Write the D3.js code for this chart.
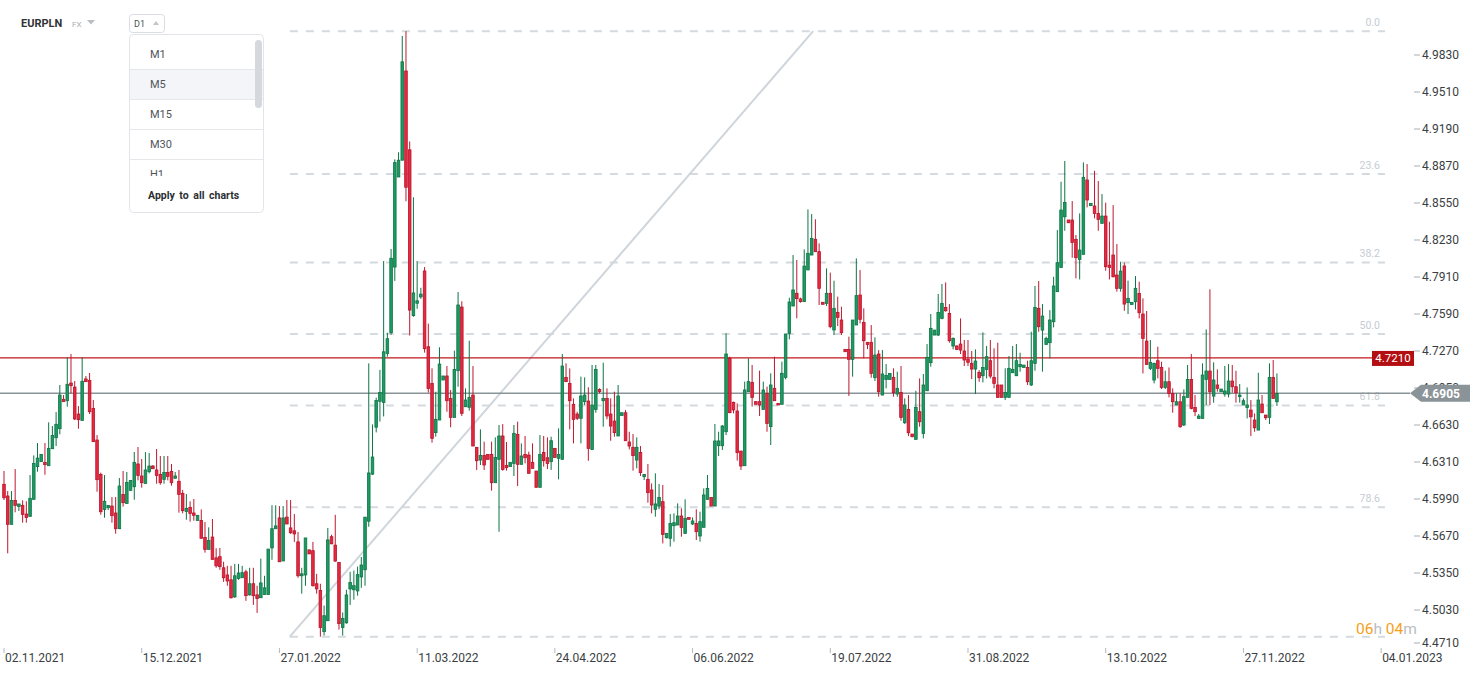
<!DOCTYPE html>
<html>
<head>
<meta charset="utf-8">
<script src="https://cdn.jsdelivr.net/npm/d3@7"></script>
<style>
  body { margin: 0; background: #fff; }
  svg { display: block; font-family: Roboto, "Open Sans", sans-serif; }
</style>
</head>
<body>
<script>
// EURPLN D1 candles, one value per bar
var openPrices = [
  4.6117,4.6016,4.5771,4.5978,4.5926,4.5935,4.5860,4.5840,4.5987,4.6270,
  4.6313,4.6307,4.6278,4.6425,4.6520,4.6598,4.6852,4.6840,4.6993,4.6958,
  4.6725,4.6670,4.7028,4.7016,4.6774,4.6500,4.6203,4.5900,4.5915,4.5929,
  4.5869,4.5733,4.6030,4.5952,4.6065,4.6096,4.6293,4.6189,4.6125,4.6226,
  4.6275,4.6241,4.6203,4.6160,4.6220,4.6229,4.6169,4.6143,4.6039,4.5883,
  4.5918,4.5869,4.5805,4.5805,4.5658,4.5554,4.5661,4.5481,4.5491,4.5395,
  4.5333,4.5291,4.5143,4.5302,4.5309,4.5360,4.5161,4.5257,4.5161,4.5136,
  4.5164,4.5164,4.5567,4.5733,4.5826,4.5454,4.5833,4.5740,4.5715,4.5619,
  4.5326,4.5333,4.5550,4.5543,4.5257,4.5198,4.4843,4.4937,4.5664,4.5591,
  4.5440,4.4878,4.4919,4.5212,4.5205,4.5195,4.5316,4.5378,4.5798,4.6205,
  4.6611,4.6835,4.6825,4.7249,4.7428,4.7996,4.8775,4.8920,4.9692,4.9010,
  4.7576,4.7683,4.7738,4.7962,4.7307,4.6990,4.6564,4.6673,4.7019,4.7054,
  4.6860,4.6696,4.7100,4.7650,4.6788,4.6783,4.6889,4.6437,4.6327,4.6367,
  4.6376,4.6376,4.6131,4.6333,4.6535,4.6281,4.6270,4.6298,4.6549,4.6290,
  4.6376,4.6370,4.6307,4.6232,4.6091,4.6393,4.6347,4.6313,4.6428,4.6342,
  4.6333,4.7042,4.6990,4.6809,4.6725,4.6688,4.6832,4.6837,4.6419,4.6765,
  4.6938,4.6840,4.6860,4.6725,4.6664,4.6535,4.6713,4.6736,4.6483,4.6437,
  4.6327,4.6393,4.6183,4.6160,4.6068,4.5901,4.5929,4.5967,4.5655,4.5650,
  4.5759,4.5765,4.5843,4.5693,4.5831,4.5774,4.5779,4.5670,4.5745,4.5987,
  4.6004,4.5929,4.6451,4.6451,4.6572,4.7207,4.6826,4.6751,4.6405,4.6278,
  4.6918,4.6999,4.6832,4.6832,4.6765,4.6904,4.6616,4.6947,4.6817,4.6809,
  4.7042,4.7423,4.7659,4.7769,4.7720,4.7697,4.7971,4.8100,4.8236,4.8129,
  4.7691,4.7682,4.7769,4.7452,4.7604,4.7538,4.7284,4.7284,4.7198,4.7495,
  4.7754,4.7517,4.7345,4.7345,4.7039,4.7244,4.6889,4.7024,4.7024,4.7042,
  4.6898,4.6912,4.6650,4.6765,4.6552,4.6506,4.6745,4.6557,4.6926,4.7169,
  4.7408,4.7408,4.7552,4.7647,4.7595,4.7313,4.7313,4.7330,4.7270,4.7198,
  4.7163,4.7114,4.7085,4.7056,4.7111,4.7186,4.7042,4.6976,4.6976,4.6869,
  4.6869,4.7082,4.7056,4.7134,4.7128,4.7128,4.6976,4.7163,4.7639,4.7451,
  4.7327,4.7342,4.7523,4.7783,4.7993,4.8431,4.8403,4.8403,4.8235,4.8062,
  4.8106,4.8749,4.8527,4.8524,4.8460,4.8374,4.8437,4.8013,4.8100,4.7927,
  4.7812,4.8005,4.7688,4.7673,4.7696,4.7768,4.7590,4.7356,4.7120,4.7019,
  4.7186,4.7128,4.6955,4.7004,4.6903,4.6803,4.6831,4.6630,4.6869,4.7024,
  4.6782,4.6687,4.6687,4.7024,4.7097,4.6880,4.6976,4.6918,4.6898,4.6898,
  4.7010,4.6961,4.6875,4.6803,4.6782,4.6759,4.6673,4.6586,4.6811,4.6716,
  4.6696,4.7042,4.6831
];
var highPrices = [
  4.6232,4.6059,4.6059,4.6249,4.5947,4.5978,4.5970,4.6197,4.6367,4.6474,
  4.6376,4.6474,4.6653,4.6621,4.6742,4.6976,4.6889,4.7215,4.7244,4.7010,
  4.6794,4.7215,4.7054,4.7080,4.6846,4.6543,4.6218,4.6197,4.5935,4.6007,
  4.6007,4.6171,4.6232,4.6223,4.6151,4.6396,4.6440,4.6336,4.6396,4.6388,
  4.6284,4.6422,4.6362,4.6362,4.6362,4.6293,4.6223,4.6241,4.6068,4.6033,
  4.5970,4.5990,4.5849,4.5900,4.5791,4.5745,4.5817,4.5564,4.5567,4.5447,
  4.5412,4.5412,4.5429,4.5429,4.5412,4.5378,4.5395,4.5395,4.5240,4.5474,
  4.5326,4.5557,4.5936,4.5936,4.5929,4.5929,4.5981,4.5981,4.5860,4.5705,
  4.5395,4.5653,4.5550,4.5619,4.5343,4.5257,4.5068,4.5740,4.5681,4.5853,
  4.5440,4.5009,4.5205,4.5360,4.5371,4.5405,4.5488,4.5833,4.7163,4.6635,
  4.6866,4.7107,4.8048,4.7428,4.8152,4.8927,4.8989,4.9995,5.0036,4.9082,
  4.8600,4.8048,4.7817,4.7996,4.7507,4.7120,4.6918,4.7302,4.7054,4.7140,
  4.6933,4.7273,4.7780,4.7700,4.6947,4.7359,4.7140,4.6437,4.6592,4.6486,
  4.6376,4.6486,4.6523,4.6630,4.6638,4.6483,4.6307,4.6630,4.6659,4.6471,
  4.6535,4.6399,4.6471,4.6232,4.6543,4.6535,4.6523,4.6529,4.6428,4.6601,
  4.7244,4.7163,4.7120,4.6860,4.6745,4.7048,4.7042,4.6956,4.7149,4.7149,
  4.6947,4.7169,4.6947,4.6860,4.6918,4.6976,4.6736,4.6760,4.6572,4.6552,
  4.6523,4.6448,4.6203,4.6293,4.6125,4.6212,4.6120,4.6111,4.5693,4.5860,
  4.5866,4.5952,4.5909,4.5987,4.5831,4.5831,4.5901,4.5880,4.6082,4.6198,
  4.6004,4.6639,4.6572,4.6630,4.7423,4.7221,4.6832,4.6817,4.6405,4.7005,
  4.7207,4.7149,4.6832,4.7100,4.7005,4.6962,4.7077,4.7221,4.6817,4.7178,
  4.7417,4.7731,4.8100,4.8057,4.7731,4.8149,4.8495,4.8455,4.8409,4.8201,
  4.7691,4.7985,4.7948,4.7878,4.7740,4.7653,4.7284,4.7394,4.7538,4.8071,
  4.7970,4.7639,4.7345,4.7494,4.7388,4.7278,4.7278,4.7157,4.7076,4.7120,
  4.7091,4.7140,4.6860,4.6889,4.6552,4.6926,4.7033,4.7071,4.7330,4.7590,
  4.7451,4.7763,4.7849,4.7863,4.7676,4.7388,4.7321,4.7552,4.7365,4.7365,
  4.7270,4.7284,4.7105,4.7431,4.7313,4.7365,4.7293,4.7342,4.6976,4.7120,
  4.7226,4.7313,4.7330,4.7255,4.7148,4.7186,4.7437,4.7832,4.7875,4.7676,
  4.7394,4.7624,4.7912,4.8316,4.8734,4.8913,4.8403,4.8567,4.8273,4.8460,
  4.8901,4.8887,4.8547,4.8829,4.8740,4.8627,4.8553,4.8388,4.8532,4.8195,
  4.8042,4.8034,4.7878,4.7690,4.7918,4.7869,4.7725,4.7616,4.7365,4.7169,
  4.7307,4.7177,4.7099,4.7128,4.6947,4.6903,4.6903,4.6938,4.7149,4.7244,
  4.6889,4.6725,4.7163,4.7457,4.7803,4.7172,4.7111,4.6941,4.7140,4.7157,
  4.7149,4.7099,4.6984,4.6860,4.6955,4.6846,4.6730,4.7082,4.6889,4.6716,
  4.7163,4.7192,4.7076
];
var lowPrices = [
  4.5981,4.5520,4.5771,4.5875,4.5886,4.5785,4.5785,4.5840,4.5987,4.6226,
  4.6313,4.6200,4.6278,4.6425,4.6448,4.6549,4.6832,4.6788,4.6904,4.6673,
  4.6598,4.6670,4.7005,4.6725,4.6486,4.6053,4.5854,4.5828,4.5895,4.5785,
  4.5690,4.5733,4.5924,4.5952,4.6065,4.5984,4.6151,4.6088,4.6125,4.6212,
  4.6252,4.6122,4.6114,4.6122,4.6151,4.6105,4.6169,4.5872,4.5866,4.5811,
  4.5794,4.5802,4.5805,4.5650,4.5526,4.5554,4.5468,4.5395,4.5378,4.5274,
  4.5240,4.5129,4.5136,4.5291,4.5309,4.5109,4.5154,4.5074,4.5005,4.5136,
  4.5164,4.5164,4.5464,4.5733,4.5447,4.5454,4.5774,4.5688,4.5619,4.5309,
  4.5171,4.5240,4.5515,4.5233,4.5171,4.4799,4.4809,4.4937,4.5602,4.5447,
  4.4861,4.4809,4.4912,4.5074,4.5119,4.5154,4.5222,4.5240,4.5750,4.6198,
  4.6566,4.6660,4.6704,4.7221,4.7411,4.7876,4.8775,4.8920,4.8565,4.7404,
  4.7566,4.7635,4.7721,4.7256,4.6911,4.6477,4.6529,4.6673,4.7019,4.6745,
  4.6610,4.6696,4.6961,4.6708,4.6788,4.6754,4.6448,4.6241,4.6284,4.6241,
  4.6333,4.6062,4.6131,4.5707,4.6235,4.6235,4.6270,4.6189,4.6102,4.6290,
  4.6298,4.6212,4.6255,4.6091,4.6091,4.6270,4.6249,4.6241,4.6350,4.6160,
  4.6333,4.7005,4.6592,4.6471,4.6673,4.6471,4.6803,4.6321,4.6413,4.6736,
  4.6904,4.6615,4.6679,4.6494,4.6529,4.6535,4.6713,4.6494,4.6419,4.6235,
  4.6255,4.6189,4.6154,4.5958,4.5866,4.5837,4.5901,4.5606,4.5650,4.5578,
  4.5621,4.5765,4.5664,4.5687,4.5814,4.5765,4.5635,4.5621,4.5745,4.5987,
  4.5929,4.5929,4.6362,4.6414,4.6543,4.6731,4.6731,4.6322,4.6241,4.6278,
  4.6918,4.6789,4.6809,4.6708,4.6765,4.6572,4.6457,4.6840,4.6803,4.6809,
  4.7025,4.7371,4.7659,4.7553,4.7688,4.7697,4.7971,4.8100,4.8129,4.7668,
  4.7674,4.7659,4.7466,4.7408,4.7486,4.7408,4.7264,4.6881,4.7048,4.7495,
  4.7509,4.7206,4.7287,4.7039,4.7010,4.6875,4.6889,4.6947,4.7024,4.6875,
  4.6875,4.6667,4.6638,4.6534,4.6523,4.6506,4.6615,4.6514,4.6926,4.7134,
  4.7408,4.7399,4.7544,4.7610,4.7342,4.7284,4.7278,4.7244,4.7140,4.7140,
  4.7027,4.6898,4.7004,4.6998,4.7033,4.7033,4.6947,4.6869,4.6869,4.6846,
  4.6869,4.7082,4.7056,4.7091,4.7128,4.6976,4.6967,4.7099,4.7437,4.7091,
  4.7327,4.7206,4.7474,4.7783,4.7993,4.8310,4.8379,4.8077,4.7898,4.7889,
  4.8106,4.8512,4.8527,4.8417,4.8310,4.8374,4.7964,4.7889,4.7907,4.7783,
  4.7783,4.7618,4.7590,4.7673,4.7630,4.7552,4.7076,4.7154,4.7105,4.6990,
  4.7033,4.6941,4.6941,4.6869,4.6736,4.6803,4.6606,4.6621,4.6869,4.6765,
  4.6707,4.6687,4.6687,4.6803,4.6803,4.6823,4.6918,4.6918,4.6875,4.6869,
  4.6909,4.6823,4.6823,4.6803,4.6687,4.6534,4.6572,4.6586,4.6736,4.6673,
  4.6638,4.6860,4.6794
];
var closePrices = [
  4.6001,4.5771,4.5978,4.5935,4.5947,4.5857,4.5831,4.5996,4.6298,4.6344,
  4.6376,4.6287,4.6428,4.6540,4.6636,4.6889,4.6832,4.6982,4.6970,4.6682,
  4.6676,4.7008,4.7005,4.6745,4.6486,4.6157,4.5880,4.5970,4.5935,4.5846,
  4.5733,4.6102,4.5958,4.6134,4.6151,4.6307,4.6194,4.6131,4.6241,4.6275,
  4.6252,4.6194,4.6131,4.6220,4.6186,4.6131,4.6189,4.6030,4.5889,4.5909,
  4.5866,4.5849,4.5849,4.5650,4.5554,4.5632,4.5468,4.5412,4.5405,4.5309,
  4.5281,4.5136,4.5326,4.5350,4.5353,4.5154,4.5257,4.5154,4.5130,4.5264,
  4.5222,4.5557,4.5733,4.5757,4.5447,4.5826,4.5774,4.5698,4.5688,4.5326,
  4.5343,4.5653,4.5515,4.5240,4.5212,4.4878,4.4981,4.5636,4.5602,4.5453,
  4.4912,4.4957,4.5160,4.5267,4.5240,4.5336,4.5419,4.5833,4.6215,4.6353,
  4.6842,4.6911,4.7263,4.7376,4.8072,4.8899,4.8920,4.9771,4.8686,4.7624,
  4.7772,4.7704,4.7762,4.7290,4.6946,4.6515,4.6679,4.7157,4.7054,4.6840,
  4.6696,4.7111,4.7668,4.6731,4.6846,4.6869,4.6448,4.6321,4.6367,4.6284,
  4.6333,4.6131,4.6350,4.6535,4.6246,4.6261,4.6307,4.6558,4.6290,4.6362,
  4.6347,4.6212,4.6255,4.6091,4.6376,4.6321,4.6298,4.6494,4.6350,4.6376,
  4.7140,4.7005,4.6840,4.6679,4.6688,4.6881,4.6889,4.6428,4.6803,4.7111,
  4.6918,4.6860,4.6708,4.6621,4.6564,4.6881,4.6736,4.6494,4.6448,4.6365,
  4.6437,4.6218,4.6203,4.6045,4.5938,4.5947,4.6004,4.5684,4.5693,4.5779,
  4.5785,4.5843,4.5745,4.5823,4.5814,4.5800,4.5707,4.5794,4.6025,4.6082,
  4.5929,4.6492,4.6492,4.6621,4.7244,4.6737,4.6760,4.6391,4.6275,4.6933,
  4.7005,4.6869,4.6809,4.6803,4.6933,4.6644,4.6976,4.6840,4.6803,4.7077,
  4.7417,4.7694,4.7798,4.7723,4.7697,4.8005,4.8115,4.8244,4.8129,4.7812,
  4.7674,4.7769,4.7480,4.7639,4.7561,4.7429,4.7264,4.7198,4.7538,4.7749,
  4.7544,4.7359,4.7327,4.7076,4.7235,4.6918,4.7071,4.7059,4.7076,4.6909,
  4.6947,4.6696,4.6803,4.6563,4.6529,4.6782,4.6658,4.6976,4.7215,4.7466,
  4.7451,4.7604,4.7682,4.7618,4.7359,4.7379,4.7284,4.7278,4.7192,4.7172,
  4.7114,4.7183,4.7039,4.7128,4.7221,4.7053,4.6990,4.6869,4.6869,4.6912,
  4.7120,4.7111,4.7186,4.7154,4.7148,4.7004,4.7186,4.7647,4.7480,4.7572,
  4.7379,4.7538,4.7832,4.8034,4.8489,4.8555,4.8379,4.8209,4.8077,4.8143,
  4.8772,4.8576,4.8547,4.8460,4.8408,4.8437,4.7999,4.7993,4.7912,4.7812,
  4.7961,4.7676,4.7725,4.7690,4.7812,4.7601,4.7379,4.7154,4.7172,4.7163,
  4.7120,4.6955,4.7004,4.6903,4.6831,4.6831,4.6615,4.6875,4.7024,4.6774,
  4.6745,4.6707,4.7062,4.7097,4.6918,4.7019,4.6947,4.6941,4.6924,4.7010,
  4.6961,4.6909,4.6889,4.6840,4.6803,4.6701,4.6606,4.6846,4.6736,4.6693,
  4.7042,4.6860,4.6903
];

var dateLabels = ["02.11.2021","15.12.2021","27.01.2022","11.03.2022","24.04.2022",
  "06.06.2022","19.07.2022","31.08.2022","13.10.2022","27.11.2022","04.01.2023"];
var barsPerDateTick = 37;
var priceTicks = [4.4710,4.5030,4.5350,4.5670,4.5990,4.6310,4.6630,4.6950,4.7270,
  4.7590,4.7910,4.8230,4.8550,4.8870,4.9190,4.9510,4.9830];
var fibLevels = [0, 23.6, 38.2, 50, 61.8, 78.6, 100];
var fibAnchorBars = [76.8, 217.4];   // where the fibonacci tool was dragged
var levelLine = 4.7210;
var lastPrice = 4.6905;
var timeframes = ["M1", "M5", "M15", "M30", "H1"];

var W = 1482, H = 674;
var n = closePrices.length;

var svg = d3.select("body").append("svg")
    .attr("width", W)
    .attr("height", H);

var x = d3.scaleLinear().domain([0, n - 1]).range([4, 4 + (n - 1) * 3.722]);
var y = d3.scaleLinear().domain([4.471, 4.983]).range([647, 55]);

// ---- fibonacci retracement ----
var hi = d3.max(highPrices), lo = d3.min(lowPrices);
var fibX0 = x(fibAnchorBars[0]), fibX1 = 1385;

var fib = svg.append("g");
fib.selectAll("line.fib")
    .data(fibLevels)
    .enter().append("line")
    .attr("class", "fib")
    .attr("x1", fibX0).attr("x2", fibX1)
    .attr("y1", function(d) { return y(hi - (hi - lo) * d / 100); })
    .attr("y2", function(d) { return y(hi - (hi - lo) * d / 100); })
    .attr("stroke", "#d4dadf")
    .attr("stroke-width", 2)
    .attr("stroke-dasharray", "8,8");

fib.selectAll("text")
    .data(fibLevels)
    .enter().append("text")
    .attr("x", 1380)
    .attr("y", function(d) { return y(hi - (hi - lo) * d / 100) - 5; })
    .attr("text-anchor", "end")
    .attr("font-size", 10.5)
    .attr("fill", "#c6ccd2")
    .text(function(d) { return d.toFixed(1); });

fib.append("line")
    .attr("x1", fibX0).attr("y1", y(lo))
    .attr("x2", x(fibAnchorBars[1])).attr("y2", y(hi))
    .attr("stroke", "#cfd5da")
    .attr("stroke-width", 2);

// ---- horizontal price lines ----
svg.append("line")
    .attr("x1", 0).attr("x2", 1372)
    .attr("y1", y(levelLine)).attr("y2", y(levelLine))
    .attr("stroke", "#c4161c").attr("stroke-width", 1.2);

svg.append("line")
    .attr("x1", 0).attr("x2", 1410)
    .attr("y1", y(lastPrice)).attr("y2", y(lastPrice))
    .attr("stroke", "#8a9397").attr("stroke-width", 1.4);

// ---- candles ----
var bars = d3.range(n);
var up = function(i) { return closePrices[i] >= openPrices[i]; };

var candles = svg.append("g");
candles.selectAll("line")
    .data(bars)
    .enter().append("line")
    .attr("x1", function(i) { return x(i); })
    .attr("x2", function(i) { return x(i); })
    .attr("y1", function(i) { return y(highPrices[i]); })
    .attr("y2", function(i) { return y(lowPrices[i]); })
    .attr("stroke", function(i) { return up(i) ? "#0d7446" : "#bd1930"; })
    .attr("stroke-width", 1);

candles.selectAll("rect")
    .data(bars)
    .enter().append("rect")
    .attr("x", function(i) { return x(i) - 1.3; })
    .attr("width", 2.6)
    .attr("y", function(i) { return y(Math.max(openPrices[i], closePrices[i])); })
    .attr("height", function(i) {
        return Math.max(1.5, Math.abs(y(openPrices[i]) - y(closePrices[i])));
    })
    .attr("fill", function(i) { return up(i) ? "#1c9a61" : "#e8283f"; })
    .attr("stroke", function(i) { return up(i) ? "#0d7446" : "#b5142b"; })
    .attr("stroke-width", 0.8);

// ---- price axis ----
// lowest label is nudged up so it clears the date row
var labelY = function(d) { return Math.min(y(d), 643); };
var pAxis = svg.append("g");
pAxis.selectAll("line")
    .data(priceTicks)
    .enter().append("line")
    .attr("x1", 1414).attr("x2", 1420)
    .attr("y1", labelY)
    .attr("y2", labelY)
    .attr("stroke", "#a9aeb3");
pAxis.selectAll("text")
    .data(priceTicks)
    .enter().append("text")
    .attr("x", 1422)
    .attr("y", function(d) { return labelY(d) + 4; })
    .attr("font-size", 12)
    .attr("fill", "#3a3e42")
    .text(function(d) { return d.toFixed(4); });

// level label
svg.append("rect")
    .attr("x", 1372).attr("y", y(levelLine) - 7)
    .attr("width", 42).attr("height", 15)
    .attr("fill", "#b30f12");
svg.append("text")
    .attr("x", 1393).attr("y", y(levelLine) + 4.5)
    .attr("text-anchor", "middle")
    .attr("font-size", 11.5).attr("fill", "#fff")
    .text(levelLine.toFixed(4));

// last price label
var ly = y(lastPrice);
svg.append("path")
    .attr("d", "M1410," + ly + " L1421," + (ly - 8.5) + " L1470," + (ly - 8.5) +
               " L1470," + (ly + 8.5) + " L1421," + (ly + 8.5) + " Z")
    .attr("fill", "#8a9398");
svg.append("text")
    .attr("x", 1422).attr("y", ly + 4.5)
    .attr("font-size", 12).attr("font-weight", "bold").attr("fill", "#fff")
    .text(lastPrice.toFixed(4));

// ---- date axis ----
var dAxis = svg.append("g");
dAxis.selectAll("line")
    .data(dateLabels)
    .enter().append("line")
    .attr("x1", function(d, i) { return x(i * barsPerDateTick); })
    .attr("x2", function(d, i) { return x(i * barsPerDateTick); })
    .attr("y1", 648).attr("y2", 653)
    .attr("stroke", "#b3b8bd");
dAxis.selectAll("text")
    .data(dateLabels)
    .enter().append("text")
    .attr("x", function(d, i) { return x(i * barsPerDateTick) + 1; })
    .attr("y", 662)
    .attr("font-size", 12)
    .attr("fill", "#3a3e42")
    .text(function(d) { return d; });

// ---- candle timer ----
svg.append("rect")
    .attr("x", 1355).attr("y", 620).attr("width", 60).attr("height", 15)
    .attr("fill", "#fff");
var timer = svg.append("text")
    .attr("x", 1356).attr("y", 634)
    .attr("font-size", 15.5);
timer.append("tspan").attr("fill", "#f5a01a").text("06");
timer.append("tspan").attr("fill", "#b9bec3").text("h");
timer.append("tspan").attr("fill", "#f5a01a").text(" 04");
timer.append("tspan").attr("fill", "#b9bec3").text("m");

// ---- header ----
svg.append("text")
    .attr("x", 21).attr("y", 27)
    .attr("font-size", 11).attr("font-weight", "bold").attr("fill", "#2f3337")
    .text("EURPLN");
svg.append("text")
    .attr("x", 72).attr("y", 27)
    .attr("font-size", 8).attr("fill", "#a7aeb5")
    .text("FX");
svg.append("path").attr("d", "M87,20 L95,20 L91,24.5 Z").attr("fill", "#b8bec4");

svg.append("rect")
    .attr("x", 129.5).attr("y", 14.5).attr("width", 35).attr("height", 18).attr("rx", 3)
    .attr("fill", "#fff").attr("stroke", "#d9dde1");
svg.append("text")
    .attr("x", 134).attr("y", 27)
    .attr("font-size", 9).attr("fill", "#4b5055")
    .text("D1");
svg.append("path").attr("d", "M153,25 L156,21 L159,25 Z").attr("fill", "#c0c5ca");

// ---- timeframe dropdown ----
var dd = svg.append("g");
dd.append("rect")
    .attr("x", 129.5).attr("y", 34.5).attr("width", 134).attr("height", 178).attr("rx", 4)
    .attr("fill", "#fff").attr("stroke", "#e1e4e8");

svg.append("clipPath").attr("id", "ddclip")
    .append("rect").attr("x", 130).attr("y", 36).attr("width", 133).attr("height", 140);

var list = dd.append("g").attr("clip-path", "url(#ddclip)");
list.append("rect")
    .attr("x", 130).attr("y", 69.5).attr("width", 133).attr("height", 30)
    .attr("fill", "#f4f5f9");
list.selectAll("line")
    .data(timeframes)
    .enter().append("line")
    .attr("x1", 130).attr("x2", 263)
    .attr("y1", function(d, i) { return 69.5 + i * 30; })
    .attr("y2", function(d, i) { return 69.5 + i * 30; })
    .attr("stroke", "#e5e7ea");
list.selectAll("text")
    .data(timeframes)
    .enter().append("text")
    .attr("x", 150)
    .attr("y", function(d, i) { return 58 + i * 30; })
    .attr("font-size", 11)
    .attr("fill", "#50555a")
    .text(function(d) { return d; });

dd.append("rect")
    .attr("x", 255).attr("y", 40).attr("width", 7).attr("height", 68).attr("rx", 3.5)
    .attr("fill", "#d5d8dc");
dd.append("text")
    .attr("x", 148).attr("y", 199)
    .attr("font-size", 10.5).attr("font-weight", "bold").attr("fill", "#2b2f33")
    .attr("word-spacing", 2)
    .text("Apply to all charts");
</script>
</body>
</html>
